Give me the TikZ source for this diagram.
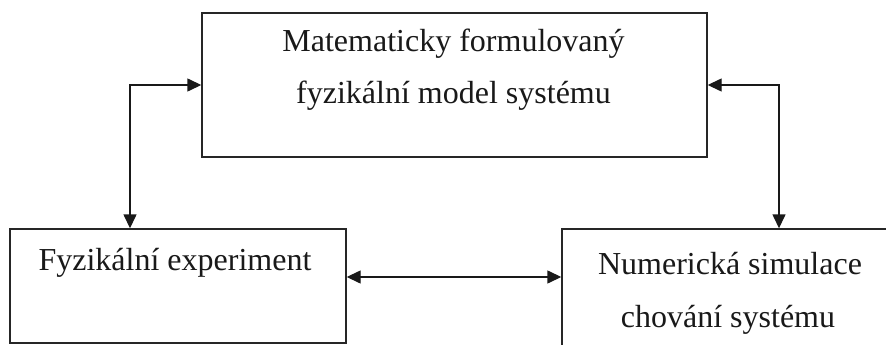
\documentclass[tikz,border=0pt]{standalone}
\usepackage{fontspec}
\setmainfont{Liberation Serif}
\usetikzlibrary{arrows.meta}
\begin{document}
\begin{tikzpicture}[x=1pt,y=-1pt,
  boxstyle/.style={draw=black!85,line width=1.4pt,inner sep=0pt},
  lbl/.style={anchor=base,inner sep=0pt,font=\fontsize{32}{40}\selectfont,text=black!90},
  arr/.style={draw=black!90,line width=1.4pt,{Triangle[length=14pt,width=13pt]}-{Triangle[length=14pt,width=13pt]}}]
\useasboundingbox (0,0) rectangle (886,345);
\fill[white] (0,0) rectangle (886,345);
\node[boxstyle,minimum width=505pt,minimum height=144pt] (top) at (454.5,85) {};
\node[boxstyle,minimum width=336pt,minimum height=114pt] (lbox) at (178,286) {};
\node[boxstyle,minimum width=334pt,minimum height=126pt] (rbox) at (729,292) {};
\node[lbl] (t1) at (453.5,52) {Matematicky formulovaný};
\node[lbl] (t2) at (453.5,103) {fyzikální model systému};
\node[lbl] (t3) at (175,270) {Fyzikální experiment};
\node[lbl] (t4) at (730,274) {Numerická simulace};
\node[lbl] (t5) at (728,327) {chování systému};
\draw[arr] (top.west) -| ([xshift=-48pt]lbox.north);
\draw[arr] (top.east) -| ([xshift=50pt]rbox.north);
\draw[arr] ([yshift=9pt]lbox.east) -- ([yshift=9pt]lbox.east -| rbox.west);
\end{tikzpicture}
\end{document}
